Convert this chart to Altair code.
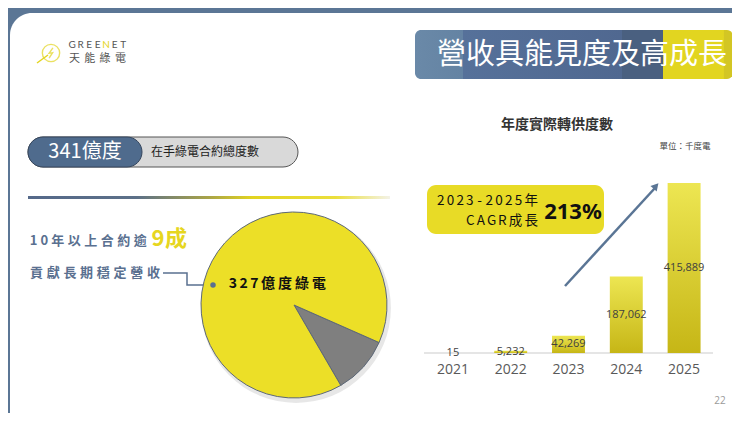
import math
import altair as alt
import pandas as pd

# ---------------- data ----------------
years = ["2021", "2022", "2023", "2024", "2025"]
supply = [15, 5232, 42269, 187062, 415889]          # 千度電
supply_labels = ["15", "5,232", "42,269", "187,062", "415,889"]

pie_parts = ["其他", "10年以上合約"]
pie_share = [10, 90]

title_text = "營收具能見度及高成長"
chart_title = "年度實際轉供度數"
unit_text = "單位：千度電"
pill_value = "341億度"
pill_desc = "在手綠電合約總度數"
left_line1 = "10年以上合約逾"
left_big = "9成"
left_line2 = "貢獻長期穩定營收"
pie_label = "327億度綠電"
cagr_line1 = "2023-2025年"
cagr_line2 = "CAGR成長"
cagr_value = "213%"
page_no = "22"

CJK = "Noto Sans CJK TC"
SLATE = "#5b7695"
TXT_SLATE = "#5a7090"
YELLOW = "#e8db26"

one = pd.DataFrame({"a": [0]})


def base():
    return alt.Chart(one)


def rect(x, y, x2, y2, **kw):
    return base().mark_rect(**kw).encode(
        x=alt.value(x), y=alt.value(y), x2=alt.value(x2), y2=alt.value(y2))


def label(txt, x, y, **kw):
    kw.setdefault("font", CJK)
    return base().mark_text(**kw).encode(x=alt.value(x), y=alt.value(y), text=alt.value(txt))


def spaced(s, x0, y, fs, ls, color, weight="normal", align="left",
           ascii_w=0.55, colors=None, font=CJK):
    centers, cur = [], 0.0
    for ch in s:
        adv = (ascii_w if ord(ch) < 128 else 1.0) * fs
        centers.append(cur + adv / 2)
        cur += adv + ls
    total = cur - ls
    start = x0 if align == "left" else (x0 - total if align == "right" else x0 - total / 2)
    df = pd.DataFrame({"ch": list(s), "px": [start + c for c in centers],
                       "col": colors if colors else [color] * len(s)})
    return alt.Chart(df).mark_text(align="center", baseline="middle", fontSize=fs,
                                   font=font, fontWeight=weight).encode(
        x=alt.X("px:Q", scale=None), y=alt.value(y), text="ch:N",
        color=alt.Color("col:N", scale=None))


layers = []

# card
layers.append(rect(2, 5, 760, 430, color="white", cornerRadiusTopLeft=22))

# logo
layers.append(base().mark_rule(color="#e3d51f", strokeWidth=1.4).encode(
    x=alt.value(29), y=alt.value(55), x2=alt.value(40), y2=alt.value(47)))
layers.append(base().mark_point(shape="circle", size=300, filled=False,
                                color="#e3d51f", strokeWidth=1.4).encode(
    x=alt.value(43), y=alt.value(45)))
layers.append(base().mark_point(shape="M0.3,-0.8L-0.3,0.05L0.25,-0.05L-0.3,0.8",
                                size=160, filled=False, color="#e3d51f",
                                strokeWidth=1.4).encode(x=alt.value(43), y=alt.value(45)))
gn = "GREENET"
layers.append(spaced(gn, 61, 37, 10, 2.3, "#555", ascii_w=0.62, font="Lato",
                     colors=["#e3d51f" if i == 4 else "#555555" for i in range(len(gn))]))
layers.append(spaced("天能綠電", 61, 51, 11, 4.3, "#555"))

# title box
title_grad = {"gradient": "linear", "x1": 0, "y1": 0, "x2": 1, "y2": 0,
              "stops": [{"offset": 0, "color": "#6a89a8"},
                        {"offset": 0.15, "color": "#6483a3"},
                        {"offset": 0.151, "color": "#56719a"},
                        {"offset": 0.65, "color": "#506890"},
                        {"offset": 0.651, "color": "#4a6080"},
                        {"offset": 0.78, "color": "#4a6080"},
                        {"offset": 0.781, "color": "#e2d520"},
                        {"offset": 0.97, "color": "#e2d520"},
                        {"offset": 0.971, "color": "#d3c624"},
                        {"offset": 1, "color": "#d3c624"}]}
layers.append(rect(407, 22, 725, 71, fill=title_grad, cornerRadius=6))
layers.append(label(title_text, 574, 47, fontSize=29, color="white",
                    align="center", baseline="middle"))

# pill
layers.append(rect(20, 129, 290, 159, color="#d9d9d9", cornerRadius=15,
                   stroke="#555555", strokeWidth=1))
layers.append(rect(20, 129, 134, 159, color="#4f6b8d", cornerRadius=15,
                   stroke="#36475e", strokeWidth=1))
layers.append(label(pill_value, 77, 144, fontSize=20, color="white",
                    align="center", baseline="middle"))
layers.append(label(pill_desc, 143, 144, fontSize=12, color="#222",
                    align="left", baseline="middle"))

# gradient divider
div_grad = {"gradient": "linear", "x1": 0, "y1": 0, "x2": 1, "y2": 0,
            "stops": [{"offset": 0, "color": "#55698a"},
                      {"offset": 0.3, "color": "#5c7088"},
                      {"offset": 0.5, "color": "#a9a448"},
                      {"offset": 0.62, "color": "#e2d420"},
                      {"offset": 0.85, "color": "#ebdf3c"},
                      {"offset": 1, "color": "#f3f2e8"}]}
layers.append(rect(20, 188, 382, 191, fill=div_grad))

# left texts
layers.append(spaced(left_line1, 22, 233, 13, 3.5, TXT_SLATE, weight="bold"))
layers.append(spaced(left_big, 144, 231, 22, 1, "#e6d620", weight="bold"))
layers.append(spaced(left_line2, 22, 265, 13, 3.7, TXT_SLATE, weight="bold"))
conn = pd.DataFrame({"px": [155, 179, 179, 205], "py": [265, 265, 277, 277],
                     "o": [0, 1, 2, 3]})
layers.append(alt.Chart(conn).mark_line(color=TXT_SLATE, strokeWidth=1.5).encode(
    x=alt.X("px:Q", scale=None), y=alt.Y("py:Q", scale=None), order="o:Q"))

# pie
layers.append(base().mark_circle(size=36000, color="#cfcfcf", opacity=0.5).encode(
    x=alt.value(288), y=alt.value(300)))
pie_df = pd.DataFrame({"part": pie_parts, "share": pie_share, "ord": [0, 1]})
start = math.radians(113.8)
layers.append(alt.Chart(pie_df).mark_arc(radius=93, stroke="#5d6878", strokeWidth=1).encode(
    theta=alt.Theta("share:Q", stack=True,
                    scale=alt.Scale(range=[start, start + 2 * math.pi])),
    color=alt.Color("part:N", scale=alt.Scale(domain=pie_parts,
                                              range=["#7f7f7f", "#ecdf27"]), legend=None),
    order=alt.Order("ord:Q"),
    x=alt.value(286), y=alt.value(297)))
layers.append(base().mark_circle(size=30, color=TXT_SLATE, opacity=1).encode(
    x=alt.value(205), y=alt.value(277)))
layers.append(spaced(pie_label, 221, 276, 14, 3, "#111", weight="bold"))

# bar chart
bar_df = pd.DataFrame({"year": years, "value": supply, "lab": supply_labels})
xsc = alt.Scale(domain=years, range=[416, 705], paddingInner=0.43, paddingOuter=0.215)
ysc = alt.Scale(domain=[0, 415889], range=[345, 175], nice=False, zero=True)
layers.append(label(chart_title, 549, 117, fontSize=14, fontWeight="bold", color="#333",
                    align="center", baseline="middle"))
layers.append(label(unit_text, 677, 138, fontSize=8.5, color="#444",
                    align="center", baseline="middle"))
layers.append(base().mark_rule(color="#dcdcdc", strokeWidth=1.5).encode(
    x=alt.value(416), x2=alt.value(705), y=alt.value(345)))
bar_grad = {"gradient": "linear", "x1": 0, "y1": 0, "x2": 0, "y2": 1,
            "stops": [{"offset": 0, "color": "#ede652"},
                      {"offset": 1, "color": "#c6b616"}]}
layers.append(alt.Chart(bar_df).mark_bar(color=bar_grad).encode(
    x=alt.X("year:N", scale=xsc, axis=None),
    y=alt.Y("value:Q", scale=ysc, axis=None)))
layers.append(alt.Chart(bar_df).transform_calculate(mid="datum.value / 2").mark_text(
    fontSize=11, color="#404040", font="Open Sans", baseline="middle").encode(
    x=alt.X("year:N", scale=xsc, axis=None),
    y=alt.Y("mid:Q", scale=ysc, axis=None),
    text="lab:N"))
layers.append(alt.Chart(bar_df).mark_text(
    fontSize=14, color="#595959", font="Open Sans", baseline="middle").encode(
    x=alt.X("year:N", scale=xsc, axis=None),
    y=alt.value(362), text="year:N"))

# CAGR box
layers.append(rect(419, 177, 596, 226, color=YELLOW, cornerRadius=9))
layers.append(spaced(cagr_line1, 530, 193, 13.5, 2.3, "#111", align="right"))
layers.append(spaced(cagr_line2, 530, 213, 13.5, 2.3, "#111", align="right", ascii_w=0.62))
layers.append(label(cagr_value, 565, 204, fontSize=22, fontWeight="bold", color="#111",
                    font="Noto Sans", align="center", baseline="middle"))

# arrow
layers.append(base().mark_rule(color="#5a7595", strokeWidth=2.5).encode(
    x=alt.value(557), y=alt.value(278), x2=alt.value(647), y2=alt.value(180)))
layers.append(base().mark_point(shape="triangle-up", size=70, filled=True,
                                color="#5a7595", angle=42, opacity=1).encode(
    x=alt.value(648), y=alt.value(178)))

# page number
layers.append(label(page_no, 712, 393, fontSize=10, color="#9a9a9a", font="Open Sans",
                    align="center", baseline="middle"))

chart = alt.layer(*layers).resolve_scale(
    x="independent", y="independent", color="independent", theta="independent"
).properties(
    width=724, height=405, padding=0, background=SLATE,
    autosize=alt.AutoSizeParams(type="none")
).configure_view(stroke=None)

chart.save("out.html", embed_options={"renderer": "svg", "actions": False})
